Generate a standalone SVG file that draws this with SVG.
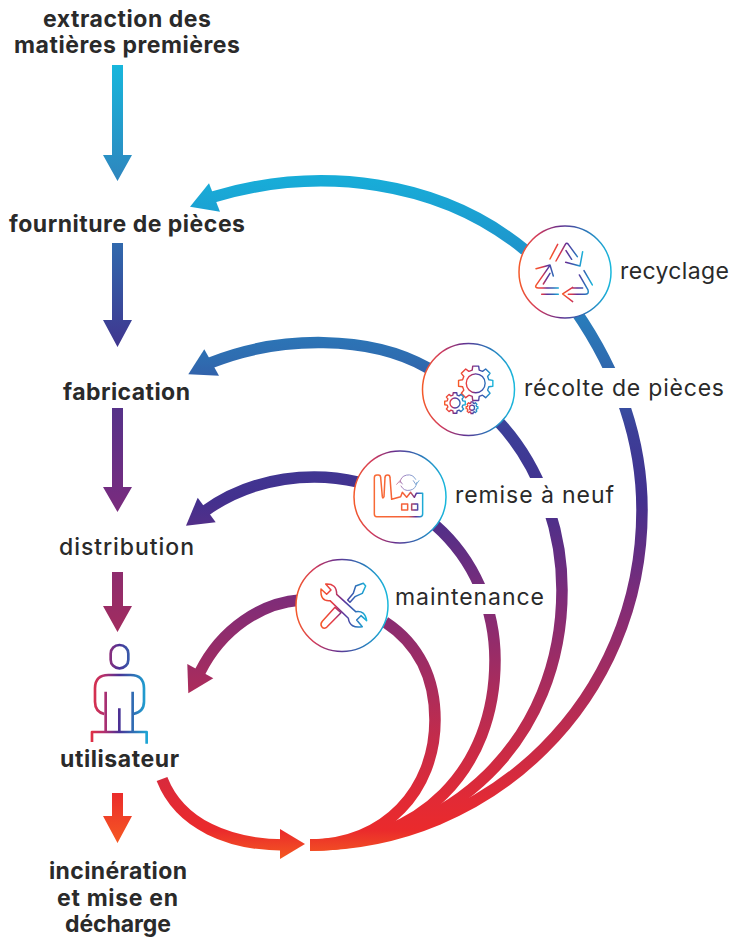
<svg xmlns="http://www.w3.org/2000/svg" xmlns:xlink="http://www.w3.org/1999/xlink" width="731" height="937" viewBox="0 0 731 937">
<style>
text{font-family:Inter,"Liberation Sans",sans-serif;font-size:23px;fill:#2a2a2a}
.b{font-weight:700}
.r{font-weight:400}
.m{font-weight:500}
.arc{fill:none;stroke-width:11.500}
.ring{fill:#fff;stroke:url(#ring);stroke-width:1.500}
.ic{fill:none;stroke-width:4.500;stroke-linecap:round;stroke-linejoin:round}
.gear{fill:none;stroke-linejoin:round}
</style>
<defs>
<linearGradient id="flow" gradientUnits="userSpaceOnUse" x1="0" y1="60" x2="0" y2="860">
<stop offset="0" stop-color="#17b6dc"/>
<stop offset=".15" stop-color="#18acd8"/>
<stop offset=".2375" stop-color="#1f95cc"/>
<stop offset=".375" stop-color="#2f6cb0"/>
<stop offset=".4625" stop-color="#3c3f98"/>
<stop offset=".55" stop-color="#43308e"/>
<stop offset=".675" stop-color="#7f2c78"/>
<stop offset=".8" stop-color="#b02c58"/>
<stop offset=".925" stop-color="#e22a35"/>
<stop offset=".9625" stop-color="#ea2a2c"/>
<stop offset="1" stop-color="#f45a20"/>
</linearGradient>
<linearGradient id="down" gradientUnits="userSpaceOnUse" x1="0" y1="65" x2="0" y2="845">
<stop offset="0" stop-color="#17b6dc"/>
<stop offset=".15" stop-color="#2f85bd"/>
<stop offset=".25" stop-color="#3261a8"/>
<stop offset=".36" stop-color="#40368f"/>
<stop offset=".55" stop-color="#742c80"/>
<stop offset=".72" stop-color="#a02c60"/>
<stop offset=".93" stop-color="#ea2a2c"/>
<stop offset="1" stop-color="#f65a22"/>
</linearGradient>
<linearGradient id="ring" x1="0" y1="0" x2="1" y2="0">
<stop offset="0" stop-color="#f45a2a"/>
<stop offset=".2" stop-color="#d13a5c"/>
<stop offset=".45" stop-color="#64308f"/>
<stop offset=".7" stop-color="#2e70b5"/>
<stop offset="1" stop-color="#18b8dc"/>
</linearGradient>
<linearGradient id="stops">
<stop offset="0" stop-color="#f85a25"/><stop offset=".3" stop-color="#e0384a"/><stop offset=".5" stop-color="#5d309a"/><stop offset=".75" stop-color="#3068b5"/><stop offset="1" stop-color="#18b8dc"/>
</linearGradient>
<linearGradient id="recL" href="#stops" xlink:href="#stops" gradientUnits="userSpaceOnUse" x1="105" y1="0" x2="178" y2="0"/>
<linearGradient id="recR" href="#stops" xlink:href="#stops" gradientUnits="userSpaceOnUse" x1="186" y1="0" x2="278" y2="0"/>
<linearGradient id="recT" href="#stops" xlink:href="#stops" gradientUnits="userSpaceOnUse" x1="150" y1="0" x2="250" y2="0"/>
<linearGradient id="iconB" href="#stops" xlink:href="#stops" gradientUnits="userSpaceOnUse" x1="105" y1="0" x2="245" y2="0"/>
<linearGradient id="iconG" href="#stops" xlink:href="#stops" gradientUnits="userSpaceOnUse" x1="-100" y1="0" x2="100" y2="0"/>
<linearGradient id="iconF" gradientUnits="userSpaceOnUse" x1="85" y1="0" x2="235" y2="0">
<stop offset="0" stop-color="#f86a35"/><stop offset=".7" stop-color="#f4603a"/><stop offset=".85" stop-color="#5d309a"/><stop offset="1" stop-color="#18b8dc"/>
</linearGradient>
<linearGradient id="iconP" gradientUnits="userSpaceOnUse" x1="60" y1="0" x2="235" y2="0">
<stop offset="0" stop-color="#e63040"/><stop offset=".25" stop-color="#b03070"/><stop offset=".5" stop-color="#4a3095"/><stop offset=".75" stop-color="#2f70b5"/><stop offset="1" stop-color="#1cabd8"/>
</linearGradient>
<polygon id="gearShape" points="75,-20 98,-17 98,17 75,20 68,39 82,57 57,82 39,68 20,75 17,98 -17,98 -20,75 -39,68 -57,82 -82,57 -68,39 -75,20 -98,17 -98,-17 -75,-20 -68,-39 -82,-57 -57,-82 -39,-68 -20,-75 -17,-98 17,-98 20,-75 39,-68 57,-82 82,-57 68,-39"/>
</defs>

<g id="connectors">
<g fill="url(#down)">
<path d="M112,65H123V155H132L117.500,181L103,155H112Z"/>
<path d="M112,243H123V320H132L117.500,347L103,320H112Z"/>
<path d="M112,408H123V487H132L117.500,512L103,487H112Z"/>
<path d="M112,572H123V606H132L117.500,632L103,606H112Z"/>
<path d="M112,793H123V816H132L117.500,843L103,816H112Z"/>
</g>
<g class="arc" stroke="url(#flow)">
<path d="M525,250C440,180 320,165 213,197"/>
<path d="M575,310C620,375 642,440 642,510C642,700 490,845 310,845"/>
<path d="M428,368C370,335 280,335 210,363"/>
<path d="M497,420C540,465 562,530 562,590C562,740 450,845 310,845"/>
<path d="M358,482C315,472 255,475 205,511"/>
<path d="M435,525C475,560 495,610 495,660C495,770 420,845 310,845"/>
<path d="M300,600C262,603 222,628 200,672"/>
<path d="M385,622C420,645 435,680 435,720C435,790 385,845 310,845"/>
<path d="M162,779C180,825 230,845 285,845"/>
</g>
<g fill="url(#flow)">
<path d="M190,206.700L209,183.300L220,211.700Z"/>
<path d="M188.300,374.300L204.300,349.300L219,375.700Z"/>
<path d="M186,525.700L197.700,497.700L215.700,522.300Z"/>
<path d="M188.300,693.300L187.300,664L213.300,678.300Z"/>
<path d="M305,844L280,829V859Z"/>
</g>
</g>

<g id="node-extraction"><text class="b" x="43" y="27" textLength="168">extraction des</text><text class="b" x="14" y="53" textLength="226">matières premières</text></g>
<g id="node-fourniture"><text class="b" x="9" y="232" textLength="236">fourniture de pièces</text></g>
<g id="node-fabrication"><text class="b" x="63" y="400" textLength="127">fabrication</text></g>
<g id="node-distribution"><text class="m" x="59" y="555" textLength="135">distribution</text></g>
<g id="node-utilisateur">
<g transform="translate(70,630) scale(.3333)" stroke="url(#iconP)" fill="none" stroke-width="8" stroke-linecap="butt" stroke-linejoin="round">
<rect x="122" y="45" width="53" height="70" rx="26"/>
<path d="M103,252Q75,245 75,215V175Q75,135 115,135H182Q222,135 222,175V215Q222,245 190,252"/>
<path d="M107,185V306M188,185V306M148,235V306"/>
<path d="M66,336V306H230V341"/>
</g>
<text class="b" x="60" y="767" textLength="119">utilisateur</text>
</g>
<g id="node-incineration"><text class="b" x="49" y="879" textLength="138">incinération</text><text class="b" x="57" y="906" textLength="121">et mise en</text><text class="b" x="65" y="931.500" textLength="106">décharge</text></g>

<g id="node-recyclage">
<rect x="612" y="250" width="119" height="40" fill="#fff"/>
<circle class="ring" cx="565" cy="272" r="46"/>
<g transform="translate(500,210) scale(.3333)" class="ic">
<path stroke="url(#recT)" d="M150,147L173,103M168,153L196,103Q200,97 205,103L232,140M198,122L215,148M197,157L240,168L248,125"/>
<path stroke="url(#recR)" d="M252,182L277,225M238,195L264,240Q268,253 255,253H205M218,232L188,252L218,275M215,234H248"/>
<path stroke="url(#recL)" d="M108,176L150,165L160,198M150,166L108,226Q104,234 115,234H175M130,222L150,190M125,253H175"/>
</g>
<text class="r" x="620" y="279" textLength="109">recyclage</text>
</g>

<g id="node-recolte">
<rect x="516" y="368" width="215" height="40" fill="#fff"/>
<circle class="ring" cx="468.500" cy="389.500" r="46"/>
<g class="gear" stroke="url(#iconG)">
<g transform="translate(475.700,383.300) scale(.175)" stroke-width="8"><use href="#gearShape" xlink:href="#gearShape"/><circle r="54"/></g>
<g transform="translate(455,403) scale(.105)" stroke-width="13"><use href="#gearShape" xlink:href="#gearShape"/><circle r="48"/></g>
<g transform="translate(472,407.700) scale(.06)" stroke-width="22"><use href="#gearShape" xlink:href="#gearShape"/><circle r="42"/></g>
</g>
<text class="r" x="524" y="396" textLength="200">récolte de pièces</text>
</g>

<g id="node-remise">
<rect x="447" y="478" width="175" height="40" fill="#fff"/>
<circle class="ring" cx="400" cy="497" r="46"/>
<g transform="translate(345,440) scale(.3333)" class="ic" stroke="url(#iconF)">
<path d="M88,222V113Q88,105 96,105H100Q107,105 107,113L112,170Q113,178 117,170L120,113Q120,105 128,105Q135,105 135,113L140,178L167,170L172,157L185,172L197,157L208,172L214,160L233,160V222Q233,230 225,230H95Q88,230 88,222Z"/>
<rect x="170" y="192" width="18" height="18"/>
<rect x="200" y="192" width="18" height="18"/>
<g stroke="url(#iconB)" stroke-width="3" opacity=".6">
<path d="M165,128A25,25 0 0 1 212,118M215,128A25,25 0 0 1 168,138"/>
<path d="M155,133L165,122L172,132M205,122L213,134L222,122"/>
</g>
</g>
<text class="r" x="455" y="503" textLength="159">remise à neuf</text>
</g>

<g id="node-maintenance">
<rect x="388" y="584" width="165" height="30" fill="#fff"/>
<circle class="ring" cx="342" cy="605.500" r="46"/>
<g transform="translate(285,550) scale(.3333)" class="ic" stroke="url(#iconB)">
<path d="M108,117L125,133L138,120L122,102Q155,100 155,133L212,185Q240,180 245,212L228,197L215,210L232,230Q195,237 190,205L135,152Q105,155 108,117Z"/>
<path d="M150,172L168,188L125,232Q115,238 110,230Q105,222 112,214Z"/>
<path d="M188,150L205,130L212,108L235,100L242,108L232,130L210,140L195,157Z"/>
</g>
<text class="r" x="395" y="605" textLength="149">maintenance</text>
</g>
</svg>
